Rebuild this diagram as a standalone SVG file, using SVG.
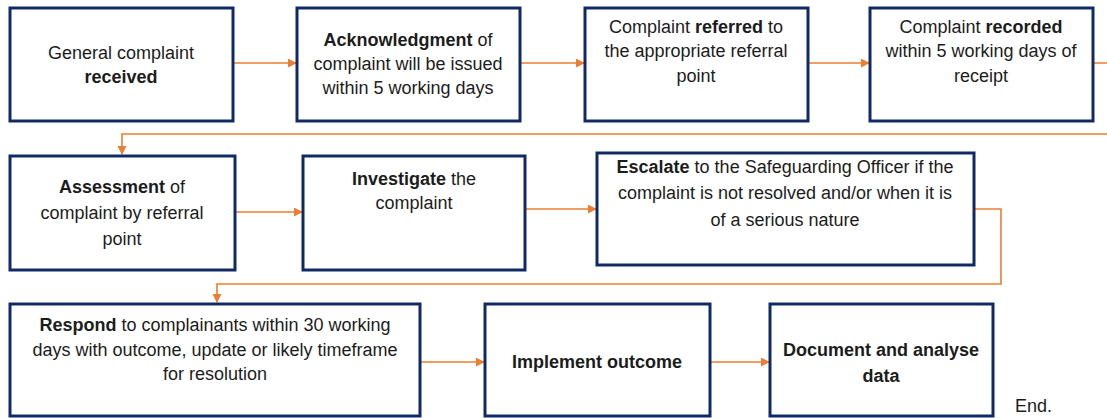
<svg xmlns="http://www.w3.org/2000/svg" width="1107" height="418" viewBox="0 0 1107 418">
<style>
.box{fill:#fff;stroke:#102a66;stroke-width:3}
.con{fill:none;stroke:#ed7d31;stroke-width:1.6}
text{font-family:"Liberation Sans",Arial,sans-serif;font-size:18px;fill:#1c1c1c;text-anchor:middle}
.b{font-weight:bold}
</style>
<defs>
<marker id="ah" viewBox="0 0 10 10" refX="9" refY="5" markerWidth="9" markerHeight="9" markerUnits="userSpaceOnUse" orient="auto">
<path d="M0,0L10,5L0,10z" fill="#ed7d31"/>
</marker>
</defs>
<rect width="1107" height="418" fill="#fff"/>
<g id="connectors">
<path class="con" d="M233,63H296" marker-end="url(#ah)"/>
<path class="con" d="M520,63H584" marker-end="url(#ah)"/>
<path class="con" d="M808,63H869" marker-end="url(#ah)"/>
<path class="con" d="M1093,63H1115V134H122V154" marker-end="url(#ah)"/>
<path class="con" d="M235,212H302" marker-end="url(#ah)"/>
<path class="con" d="M525,209H596" marker-end="url(#ah)"/>
<path class="con" d="M974,209H1001V284H217V302" marker-end="url(#ah)"/>
<path class="con" d="M420,362H484" marker-end="url(#ah)"/>
<path class="con" d="M710,362H769" marker-end="url(#ah)"/>
</g>
<g id="n1"><rect class="box" x="10" y="8" width="223" height="113"/>
<text x="121" y="59">General complaint</text><text x="121" y="83" class="b">received</text></g>
<g id="n2"><rect class="box" x="297" y="8" width="223" height="113"/>
<text x="408" y="46"><tspan class="b">Acknowledgment</tspan> of</text><text x="408" y="70">complaint will be issued</text><text x="408" y="94">within 5 working days</text></g>
<g id="n3"><rect class="box" x="585" y="8" width="223" height="113"/>
<text x="696" y="33">Complaint <tspan class="b">referred</tspan> to</text><text x="696" y="57">the appropriate referral</text><text x="696" y="82">point</text></g>
<g id="n4"><rect class="box" x="870" y="8" width="223" height="113"/>
<text x="981" y="33">Complaint <tspan class="b">recorded</tspan></text><text x="981" y="57">within 5 working days of</text><text x="981" y="82">receipt</text></g>
<g id="n5"><rect class="box" x="10" y="156" width="225" height="114"/>
<text x="122" y="193"><tspan class="b">Assessment</tspan> of</text><text x="122" y="219">complaint by referral</text><text x="122" y="245">point</text></g>
<g id="n6"><rect class="box" x="303" y="156" width="222" height="114"/>
<text x="414" y="185"><tspan class="b">Investigate</tspan> the</text><text x="414" y="209">complaint</text></g>
<g id="n7"><rect class="box" x="597" y="153" width="377" height="112"/>
<text x="785" y="173"><tspan class="b">Escalate</tspan> to the Safeguarding Officer if the</text><text x="785" y="199">complaint is not resolved and/or when it is</text><text x="785" y="226">of a serious nature</text></g>
<g id="n8"><rect class="box" x="10" y="304" width="410" height="112"/>
<text x="215" y="331"><tspan class="b">Respond</tspan> to complainants within 30 working</text><text x="215" y="356">days with outcome, update or likely timeframe</text><text x="215" y="380">for resolution</text></g>
<g id="n9"><rect class="box" x="485" y="304" width="225" height="112"/>
<text x="597" y="368" class="b">Implement outcome</text></g>
<g id="n10"><rect class="box" x="770" y="304" width="223" height="112"/>
<text x="881" y="356" class="b">Document and analyse</text><text x="881" y="382" class="b">data</text></g>
<text x="1015" y="412" style="text-anchor:start">End.</text>
</svg>
